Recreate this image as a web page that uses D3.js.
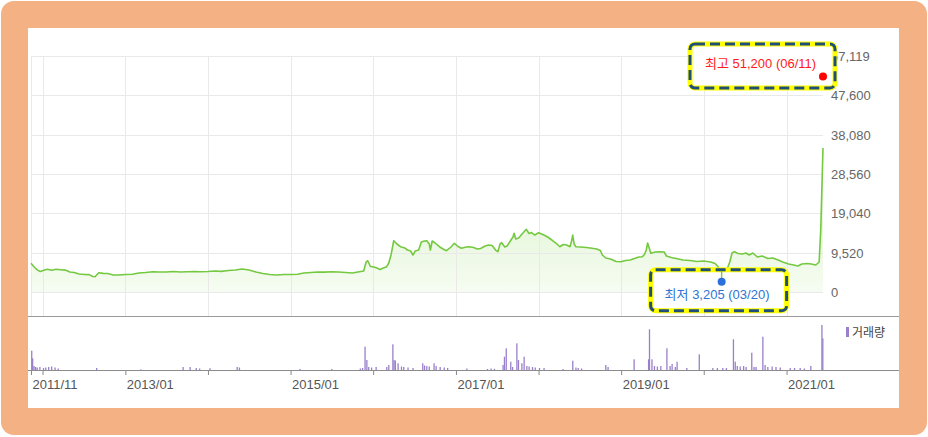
<!DOCTYPE html>
<html lang="ko">
<head>
<meta charset="UTF-8">
<title>주가 차트</title>
<script src="https://cdn.jsdelivr.net/npm/d3@7"></script>
<style>
    html, body { margin: 0; padding: 0; background: #fff; }
    svg text { font-family: "Liberation Sans", "Noto Sans CJK KR", sans-serif; }
</style>
</head>
<body>
<div id="chart"></div>
<script>
// ---- data ----
var priceDates = [
    "2011-11-11","2011-11-25","2011-12-10","2011-12-22","2012-01-10","2012-01-23","2012-02-10","2012-03-01","2012-03-20","2012-04-10",
    "2012-05-01","2012-05-20","2012-06-10","2012-07-05","2012-07-25","2012-08-10","2012-08-20","2012-09-05","2012-09-25","2012-10-15",
    "2012-11-05","2012-12-01","2013-01-01","2013-02-01","2013-03-01","2013-04-01","2013-05-01","2013-06-01","2013-07-01","2013-08-01",
    "2013-09-01","2013-10-01","2013-11-01","2013-12-01","2014-01-01","2014-02-01","2014-03-01","2014-04-01","2014-05-01","2014-06-01",
    "2014-07-01","2014-08-01","2014-09-01","2014-10-01","2014-11-01","2014-12-01","2015-01-01","2015-02-01","2015-03-01","2015-04-01",
    "2015-05-01","2015-06-01","2015-07-01","2015-08-01","2015-09-01","2015-10-01","2015-11-01","2015-11-20","2015-12-01","2015-12-08",
    "2015-12-20","2016-01-05","2016-01-20","2016-02-01","2016-02-15","2016-03-01","2016-03-10","2016-03-20","2016-04-01","2016-04-15",
    "2016-05-01","2016-05-20","2016-06-01","2016-06-15","2016-06-25","2016-07-05","2016-07-20","2016-08-01","2016-08-15","2016-08-25",
    "2016-09-05","2016-09-10","2016-09-18","2016-10-01","2016-10-20","2016-11-05","2016-11-20","2016-12-10","2016-12-25","2017-01-10",
    "2017-01-25","2017-02-15","2017-03-01","2017-03-20","2017-04-05","2017-04-20","2017-05-10","2017-05-25","2017-06-10","2017-06-25",
    "2017-07-05","2017-07-15","2017-07-22","2017-08-05","2017-08-15","2017-09-01","2017-09-10","2017-09-15","2017-09-22","2017-10-05",
    "2017-10-20","2017-11-01","2017-11-08","2017-11-20","2017-12-01","2017-12-15","2018-01-01","2018-01-20","2018-02-10","2018-03-01",
    "2018-03-20","2018-04-05","2018-04-20","2018-05-05","2018-05-20","2018-05-28","2018-06-01","2018-06-07","2018-06-15","2018-07-05",
    "2018-08-01","2018-08-25","2018-09-15","2018-10-01","2018-10-10","2018-10-25","2018-11-15","2018-12-10","2019-01-01","2019-01-20",
    "2019-02-10","2019-03-01","2019-03-20","2019-04-05","2019-04-15","2019-04-22","2019-04-28","2019-05-05","2019-05-12","2019-06-01",
    "2019-06-20","2019-07-10","2019-07-20","2019-08-10","2019-09-01","2019-10-01","2019-11-01","2019-12-01","2020-01-01","2020-02-01",
    "2020-02-20","2020-03-05","2020-03-20","2020-04-01","2020-04-15","2020-04-25","2020-05-05","2020-05-15","2020-06-01","2020-06-20",
    "2020-07-05","2020-07-20","2020-08-05","2020-08-25","2020-09-15","2020-10-10","2020-11-01","2020-11-25","2020-12-15","2021-01-10",
    "2021-02-01","2021-02-20","2021-03-10","2021-04-01","2021-04-20","2021-05-10","2021-05-25","2021-06-01","2021-06-11"
];
var priceValues = [
    6950,6050,5300,4950,5300,5500,5250,5500,5400,5300,
    4850,4700,4350,4250,4200,3750,3700,4650,4500,4480,
    4150,4110,4240,4280,4600,4720,4900,4840,4840,4960,
    4840,4900,4960,4900,4960,5080,5000,5200,5320,5570,
    5320,4840,4480,4240,4110,4240,4240,4300,4600,4720,
    4840,4800,4900,4840,4720,4600,4910,5080,7260,7570,
    6170,6050,5740,5450,5810,6120,7020,8950,12420,11620,
    10960,10650,10160,9920,8950,9920,10160,12100,12340,12420,
    11620,10160,12340,11860,10960,10400,9990,10890,11790,11010,
    10580,10890,10960,10770,10400,10530,11130,11370,11250,10160,
    9750,11620,11930,10890,11130,12580,13310,14200,12830,13070,
    14040,14760,15170,14160,14400,13790,14350,13920,13310,12580,
    11790,10960,11500,11370,10960,12580,13790,11620,10960,10890,
    10770,10580,10400,10040,8950,8230,7990,7380,7330,7620,
    7740,8110,8470,8540,9200,10160,11860,10650,9370,9680,
    9750,9680,8710,8350,8110,7740,7620,7380,7500,7260,
    6900,6120,3205,4360,5810,7260,9440,9750,9320,9200,
    9440,8950,9440,8470,8710,8110,8230,7740,7260,6780,
    6530,6290,6780,6900,6780,6530,7260,15000,34850
];
var volumeDates = [
    "2011-11-14","2011-11-18","2011-11-24","2011-12-01","2011-12-08","2011-12-20","2012-01-05","2012-01-15","2012-01-28","2012-02-10",
    "2012-02-25","2012-03-10","2012-08-27","2013-03-10","2013-09-13","2013-10-14","2013-11-10","2013-11-25","2014-01-10","2014-05-10",
    "2014-05-20","2015-02-12","2015-07-02","2015-11-05","2015-11-15","2015-11-26","2015-12-04","2015-12-12","2015-12-25","2016-01-14",
    "2016-03-01","2016-03-10","2016-03-28","2016-04-02","2016-04-08","2016-04-20","2016-05-05","2016-05-15","2016-06-03","2016-06-25",
    "2016-08-07","2016-08-15","2016-08-25","2016-09-05","2016-09-26","2016-10-05","2016-10-23","2016-11-10","2016-11-25","2017-02-18",
    "2017-05-20","2017-06-05","2017-06-20","2017-07-28","2017-08-03","2017-08-11","2017-08-31","2017-09-08","2017-09-27","2017-10-04",
    "2017-10-19","2017-10-29","2017-11-10","2017-11-20","2017-12-05","2017-12-17","2018-01-05","2018-01-25","2018-04-19","2018-06-01",
    "2018-06-15","2018-06-25","2018-07-10","2018-10-25","2018-11-04","2019-02-27","2019-05-02","2019-05-06","2019-05-17","2019-05-28",
    "2019-06-10","2019-06-25","2019-07-22","2019-08-05","2019-08-14","2019-08-28","2019-09-05","2019-10-18","2019-12-12","2020-02-10",
    "2020-03-01","2020-03-25","2020-04-10","2020-05-11","2020-05-19","2020-05-28","2020-06-10","2020-06-25","2020-07-06","2020-07-31",
    "2020-08-10","2020-08-19","2020-09-18","2020-09-28","2020-10-10","2020-10-29","2020-11-15","2020-12-04","2021-01-17","2021-02-05",
    "2021-03-02","2021-03-20","2021-04-18","2021-06-06","2021-06-10"
];
var volumeValues = [
    1930000,1170000,400000,300000,250000,300000,200000,250000,300000,350000,
    250000,150000,200000,60000,300000,300000,200000,150000,180000,300000,
    250000,100000,100000,150000,200000,2330000,1000000,300000,250000,300000,
    300000,500000,2570000,1000000,950000,670000,350000,300000,250000,200000,
    670000,450000,400000,350000,670000,400000,300000,250000,200000,150000,
    100000,150000,120000,500000,1330000,2170000,830000,300000,2670000,1000000,
    670000,1330000,400000,350000,300000,250000,200000,200000,100000,930000,
    250000,200000,150000,500000,300000,1070000,1070000,4070000,1070000,400000,
    350000,400000,2170000,400000,600000,300000,830000,200000,1570000,200000,
    200000,200000,200000,3070000,830000,400000,350000,400000,300000,1730000,
    300000,300000,3330000,500000,300000,350000,300000,250000,200000,200000,
    200000,150000,400000,4500000,3170000
];
var yTickValues = [0, 9520, 19040, 28560, 38080, 47600, 57119];
var xTickDates = ["2011-11-11","2012-01-01","2013-01-01","2014-01-01","2015-01-01","2016-01-01",
                  "2017-01-01","2018-01-01","2019-01-01","2020-01-01","2021-01-01"];
var xTickLabels = ["2011/11","","2013/01","","2015/01","","2017/01","","2019/01","","2021/01"];
var highDate = "2021-06-11", highValue = 51200, highLabel = "최고 51,200 (06/11)";
var lowDate = "2020-03-20", lowValue = 3205, lowLabel = "최저 3,205 (03/20)";
var legendLabel = "거래량";

// ---- drawing ----
var width = 928, height = 437;
var parse = d3.timeParse("%Y-%m-%d");

var svg = d3.select("#chart").append("svg")
    .attr("width", width)
    .attr("height", height);

// orange frame + white card
svg.append("rect").attr("x", 1).attr("y", 1).attr("width", 926).attr("height", 434)
    .attr("rx", 13).attr("fill", "#f4b183");
svg.append("rect").attr("x", 28).attr("y", 28).attr("width", 871).attr("height", 380)
    .attr("fill", "#fff");

var x = d3.scaleTime()
    .domain([parse("2011-11-11"), parse("2021-06-11")])
    .range([31, 823]);
var y = d3.scaleLinear().domain([0, 57119]).range([292, 56]);
var yVol = d3.scaleLinear().domain([0, 4500000]).range([370, 325]);

var price = priceDates.map(function(d, i) { return {date: parse(d), value: priceValues[i]}; });
var volume = volumeDates.map(function(d, i) { return {date: parse(d), value: volumeValues[i]}; });

// gradient for area
var defs = svg.append("defs");
var grad = defs.append("linearGradient").attr("id", "areaGrad")
    .attr("gradientUnits", "userSpaceOnUse")
    .attr("x1", 0).attr("x2", 0).attr("y1", y(57119)).attr("y2", y(0));
grad.append("stop").attr("offset", "0%").attr("stop-color", "#c2e9a6");
grad.append("stop").attr("offset", "100%").attr("stop-color", "#f6fcf2");

svg.append("path")
    .datum(price)
    .attr("fill", "url(#areaGrad)")
    .attr("d", d3.area()
        .x(function(d) { return x(d.date); })
        .y0(y(0))
        .y1(function(d) { return y(d.value); }));

// grid
svg.append("g").selectAll("line")
    .data(yTickValues)
    .enter().append("line")
    .attr("x1", 31).attr("x2", 823)
    .attr("y1", function(d) { return Math.round(y(d)) + 0.5; })
    .attr("y2", function(d) { return Math.round(y(d)) + 0.5; })
    .attr("stroke", "#e9e9e9");

svg.append("g").selectAll("line")
    .data(xTickDates)
    .enter().append("line")
    .attr("x1", function(d) { return Math.round(x(parse(d))) + 0.5; })
    .attr("x2", function(d) { return Math.round(x(parse(d))) + 0.5; })
    .attr("y1", y(57119)).attr("y2", 316)
    .attr("stroke", "#e9e9e9");

// price line
svg.append("path")
    .datum(price)
    .attr("fill", "none")
    .attr("stroke", "#74c940")
    .attr("stroke-width", 1.6)
    .attr("stroke-linejoin", "round")
    .attr("d", d3.line()
        .x(function(d) { return x(d.date); })
        .y(function(d) { return y(d.value); }));

// y labels
svg.append("g").selectAll("text")
    .data(yTickValues)
    .enter().append("text")
    .attr("x", 831)
    .attr("y", function(d) { return y(d) + 5; })
    .attr("font-size", 13)
    .attr("fill", "#666")
    .text(function(d) { return d3.format(",")(d); });

// separator
svg.append("line").attr("x1", 28).attr("x2", 899).attr("y1", 316.5).attr("y2", 316.5)
    .attr("stroke", "#9a9a9a");

// volume bars
svg.append("g").selectAll("rect")
    .data(volume)
    .enter().append("rect")
    .attr("x", function(d) { return x(d.date) - 0.6; })
    .attr("width", 1.3)
    .attr("y", function(d) { return yVol(d.value); })
    .attr("height", function(d) { return yVol(0) - yVol(d.value); })
    .attr("fill", "#9a80cb");

// x axis
var xAxis = svg.append("g")
    .attr("transform", "translate(0,370)")
    .call(d3.axisBottom(x)
        .tickValues(xTickDates.map(parse))
        .tickSize(5)
        .tickFormat(function(d, i) { return xTickLabels[i]; }));
xAxis.select(".domain").remove();
xAxis.selectAll(".tick line").attr("stroke", "#888");
xAxis.selectAll(".tick text")
    .attr("text-anchor", "start")
    .attr("x", 1)
    .attr("y", 19)
    .attr("dy", 0)
    .attr("font-size", 13)
    .attr("font-family", null)
    .attr("fill", "#555");
svg.append("line").attr("x1", 28).attr("x2", 899).attr("y1", 370.5).attr("y2", 370.5)
    .attr("stroke", "#8c8c8c");

// legend
svg.append("rect").attr("x", 846).attr("y", 327).attr("width", 3).attr("height", 10)
    .attr("fill", "#9a80cb");
svg.append("text").attr("x", 852).attr("y", 337).attr("font-size", 12)
    .attr("fill", "#444").text(legendLabel);

// annotation boxes
function callout(bx, by, bw, bh) {
    svg.append("rect").attr("x", bx).attr("y", by).attr("width", bw).attr("height", bh)
        .attr("rx", 5).attr("fill", "#fff").attr("stroke", "#ffff00").attr("stroke-width", 5);
    svg.append("rect").attr("x", bx).attr("y", by).attr("width", bw).attr("height", bh)
        .attr("rx", 5).attr("fill", "none").attr("stroke", "#1f4e79")
        .attr("stroke-width", 3).attr("stroke-dasharray", "10,5");
}

var hx = x(parse(highDate)), hy = y(highValue) - 4;
var lx = x(parse(lowDate)), ly = y(lowValue) + 3;

callout(hx - 133, hy - 32.5, 145, 44);
callout(lx - 71, ly - 12, 136, 41);

svg.append("text").attr("x", hx - 118).attr("y", hy - 8).attr("font-size", 13)
    .attr("fill", "#ff1a1a").text(highLabel);
svg.append("circle").attr("cx", hx).attr("cy", hy).attr("r", 4).attr("fill", "#ff0000");

// short stem from the low point down to its marker
svg.append("line").attr("x1", lx).attr("x2", lx).attr("y1", ly - 11).attr("y2", ly)
    .attr("stroke", "#74c940").attr("stroke-width", 1.4);
svg.append("text").attr("x", lx - 57).attr("y", ly + 17).attr("font-size", 13)
    .attr("fill", "#2f74d0").text(lowLabel);
svg.append("circle").attr("cx", lx).attr("cy", ly).attr("r", 4).attr("fill", "#2a6fdb");
</script>
</body>
</html>
